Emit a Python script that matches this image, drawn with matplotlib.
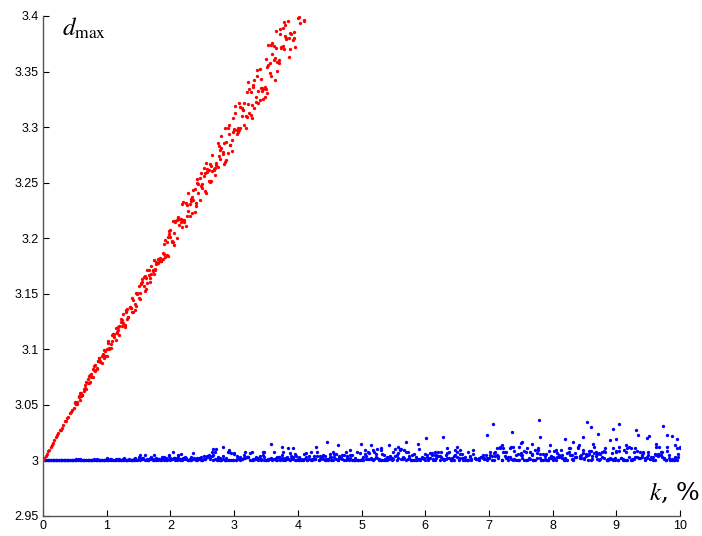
import matplotlib
matplotlib.use("Agg")
import matplotlib.pyplot as plt

# red series: d_max vs k, two overlapping runs
red_x = [
    0.00, 0.02, 0.04, 0.06, 0.08, 0.10, 0.12, 0.14, 0.16, 0.18,
    0.20, 0.22, 0.24, 0.26, 0.28, 0.30, 0.32, 0.34, 0.36, 0.38,
    0.40, 0.42, 0.44, 0.46, 0.48, 0.50, 0.52, 0.54, 0.56, 0.58,
    0.60, 0.62, 0.64, 0.66, 0.68, 0.70, 0.72, 0.74, 0.76, 0.78,
    0.80, 0.82, 0.84, 0.86, 0.88, 0.90, 0.92, 0.94, 0.96, 0.98,
    1.00, 1.02, 1.04, 1.06, 1.08, 1.10, 1.12, 1.14, 1.16, 1.18,
    1.20, 1.22, 1.24, 1.26, 1.28, 1.30, 1.32, 1.34, 1.36, 1.38,
    1.40, 1.42, 1.44, 1.46, 1.48, 1.50, 1.52, 1.54, 1.56, 1.58,
    1.60, 1.62, 1.64, 1.66, 1.68, 1.70, 1.72, 1.74, 1.76, 1.78,
    1.80, 1.82, 1.84, 1.86, 1.88, 1.90, 1.92, 1.94, 1.96, 1.98,
    2.00, 2.02, 2.04, 2.06, 2.08, 2.10, 2.12, 2.14, 2.16, 2.18,
    2.20, 2.22, 2.24, 2.26, 2.28, 2.30, 2.32, 2.34, 2.36, 2.38,
    2.40, 2.42, 2.44, 2.46, 2.48, 2.50, 2.52, 2.54, 2.56, 2.58,
    2.60, 2.62, 2.64, 2.66, 2.68, 2.70, 2.72, 2.74, 2.76, 2.78,
    2.80, 2.82, 2.84, 2.86, 2.88, 2.90, 2.92, 2.94, 2.96, 2.98,
    3.00, 3.02, 3.04, 3.06, 3.08, 3.10, 3.12, 3.14, 3.16, 3.18,
    3.20, 3.22, 3.24, 3.26, 3.28, 3.30, 3.32, 3.34, 3.36, 3.38,
    3.40, 3.42, 3.44, 3.46, 3.48, 3.50, 3.52, 3.54, 3.56, 3.58,
    3.60, 3.62, 3.64, 3.66, 3.68, 3.70, 3.72, 3.74, 3.76, 3.78,
    3.80, 3.82, 3.86, 3.88, 3.90, 3.94, 4.00, 4.02, 4.04, 4.10,
]
red_y = [
    3.0000, 3.0020, 3.0039, 3.0060, 3.0084, 3.0098, 3.0122, 3.0141, 3.0158, 3.0181,
    3.0207, 3.0230, 3.0246, 3.0272, 3.0276, 3.0293, 3.0315, 3.0352, 3.0358, 3.0386,
    3.0390, 3.0426, 3.0438, 3.0453, 3.0473, 3.0518, 3.0512, 3.0527, 3.0574, 3.0606,
    3.0603, 3.0592, 3.0624, 3.0683, 3.0704, 3.0697, 3.0695, 3.0773, 3.0779, 3.0753,
    3.0812, 3.0857, 3.0827, 3.0899, 3.0920, 3.0887, 3.0943, 3.0945, 3.0926, 3.0936,
    3.1005, 3.1056, 3.1014, 3.1012, 3.1129, 3.1128, 3.1114, 3.1191, 3.1154, 3.1174,
    3.1206, 3.1275, 3.1209, 3.1241, 3.1222, 3.1333, 3.1366, 3.1293, 3.1380, 3.1373,
    3.1337, 3.1441, 3.1404, 3.1511, 3.1502, 3.1463, 3.1452, 3.1594, 3.1630, 3.1651,
    3.1656, 3.1644, 3.1599, 3.1718, 3.1604, 3.1675, 3.1711, 3.1801, 3.1716, 3.1789,
    3.1773, 3.1811, 3.1794, 3.1795, 3.1814, 3.1948, 3.1834, 3.1969, 3.2009, 3.2069,
    3.2070, 3.1970, 3.1969, 3.2050, 3.2153, 3.2006, 3.2194, 3.2172, 3.2171, 3.2104,
    3.2167, 3.2165, 3.2318, 3.2204, 3.2246, 3.2197, 3.2355, 3.2375, 3.2348, 3.2440,
    3.2292, 3.2529, 3.2403, 3.2546, 3.2468, 3.2488, 3.2558, 3.2426, 3.2675, 3.2593,
    3.2613, 3.2502, 3.2653, 3.2753, 3.2613, 3.2633, 3.2679, 3.2644, 3.2829, 3.2711,
    3.2814, 3.2778, 3.2854, 3.2989, 3.2866, 3.2770, 3.3022, 3.2837, 3.2886, 3.3084,
    3.2985, 3.3126, 3.2934, 3.2953, 3.2972, 3.3178, 3.3104, 3.3156, 3.3018, 3.3101,
    3.3312, 3.3204, 3.3127, 3.3113, 3.3198, 3.3383, 3.3171, 3.3223, 3.3511, 3.3329,
    3.3519, 3.3437, 3.3354, 3.3339, 3.3358, 3.3343, 3.3538, 3.3558, 3.3578, 3.3741,
    3.3654, 3.3602, 3.3622, 3.3715, 3.3588, 3.3608, 3.3887, 3.3721, 3.3892, 3.3950,
    3.3819, 3.3801, 3.3802, 3.3705, 3.3842, 3.3802, 3.3980, 3.3995, 3.3939, 3.3957,
]
red2_x = [
    0.50, 0.52, 0.54, 0.56, 0.58, 0.60, 0.62, 0.64, 0.66, 0.68,
    0.70, 0.72, 0.74, 0.76, 0.78, 0.80, 0.82, 0.84, 0.86, 0.88,
    0.90, 0.92, 0.94, 0.96, 0.98, 1.00, 1.02, 1.04, 1.06, 1.08,
    1.10, 1.12, 1.14, 1.16, 1.18, 1.20, 1.22, 1.24, 1.26, 1.28,
    1.30, 1.32, 1.34, 1.36, 1.38, 1.40, 1.42, 1.44, 1.46, 1.48,
    1.50, 1.52, 1.54, 1.56, 1.58, 1.60, 1.62, 1.64, 1.66, 1.68,
    1.70, 1.72, 1.74, 1.76, 1.78, 1.80, 1.82, 1.84, 1.86, 1.88,
    1.90, 1.92, 1.94, 1.96, 1.98, 2.00, 2.02, 2.04, 2.06, 2.08,
    2.10, 2.12, 2.14, 2.16, 2.18, 2.20, 2.22, 2.24, 2.26, 2.28,
    2.30, 2.32, 2.34, 2.36, 2.38, 2.40, 2.42, 2.44, 2.46, 2.48,
    2.50, 2.52, 2.54, 2.56, 2.58, 2.60, 2.62, 2.64, 2.66, 2.68,
    2.70, 2.72, 2.74, 2.76, 2.78, 2.80, 2.82, 2.84, 2.86, 2.88,
    2.90, 2.92, 2.94, 2.96, 2.98, 3.00, 3.02, 3.04, 3.06, 3.08,
    3.10, 3.12, 3.14, 3.16, 3.18, 3.20, 3.22, 3.24, 3.26, 3.28,
    3.30, 3.32, 3.34, 3.36, 3.38, 3.40, 3.42, 3.44, 3.46, 3.48,
    3.50, 3.52, 3.54, 3.56, 3.58, 3.60, 3.62, 3.64, 3.66, 3.68,
    3.70, 3.72, 3.74, 3.76, 3.78, 3.80, 3.82, 3.84, 3.86, 3.88,
    3.92, 3.94, 3.96, 4.10,
]
red2_y = [
    3.0529, 3.0509, 3.0508, 3.0577, 3.0545, 3.0580, 3.0591, 3.0643, 3.0655, 3.0639,
    3.0731, 3.0761, 3.0705, 3.0754, 3.0824, 3.0846, 3.0803, 3.0833, 3.0898, 3.0919,
    3.0893, 3.0877, 3.0957, 3.0990, 3.0985, 3.0940, 3.1078, 3.1005, 3.1052, 3.1071,
    3.1134, 3.1140, 3.1086, 3.1151, 3.1201, 3.1128, 3.1242, 3.1262, 3.1315, 3.1203,
    3.1357, 3.1275, 3.1294, 3.1384, 3.1369, 3.1462, 3.1335, 3.1354, 3.1391, 3.1507,
    3.1566, 3.1508, 3.1588, 3.1608, 3.1567, 3.1525, 3.1544, 3.1712, 3.1668, 3.1645,
    3.1753, 3.1706, 3.1681, 3.1723, 3.1766, 3.1809, 3.1805, 3.1825, 3.1797, 3.1865,
    3.1860, 3.1980, 3.1849, 3.1842, 3.2041, 3.2010, 3.1978, 3.2156, 3.1936, 3.2145,
    3.2165, 3.2186, 3.2123, 3.2143, 3.2304, 3.2325, 3.2145, 3.2106, 3.2301, 3.2410,
    3.2312, 3.2332, 3.2230, 3.2433, 3.2237, 3.2318, 3.2495, 3.2484, 3.2344, 3.2589,
    3.2448, 3.2631, 3.2586, 3.2406, 3.2626, 3.2512, 3.2667, 3.2516, 3.2604, 3.2624,
    3.2573, 3.2663, 3.2861, 3.2738, 3.2794, 3.2923, 3.2761, 3.2670, 3.2688, 3.2707,
    3.2990, 3.2935, 3.2840, 3.2782, 3.2956, 3.2976, 3.3192, 3.2976, 3.2996, 3.3216,
    3.2995, 3.3176, 3.3156, 3.3217, 3.2989, 3.3091, 3.3404, 3.3340, 3.3319, 3.3083,
    3.3359, 3.3423, 3.3270, 3.3464, 3.3221, 3.3240, 3.3348, 3.3323, 3.3252, 3.3271,
    3.3609, 3.3309, 3.3742, 3.3485, 3.3458, 3.3758, 3.3732, 3.3422, 3.3869, 3.3507,
    3.3574, 3.3835, 3.3710, 3.3730, 3.3701, 3.3918, 3.3789, 3.3959, 3.3628, 3.3849,
    3.3787, 3.3857, 3.3722, 3.3961,
]

# blue series: d_max vs k, two overlapping runs on the same k grid
blue_x = [
    0, 0.025, 0.05, 0.075, 0.1, 0.125, 0.15, 0.175, 0.2, 0.225, 0.25, 0.275, 0.3, 0.325, 0.35, 0.375, 0.4, 0.425, 0.45, 0.475,
    0.5, 0.525, 0.55, 0.575, 0.6, 0.625, 0.65, 0.675, 0.7, 0.725, 0.75, 0.775, 0.8, 0.825, 0.85, 0.875, 0.9, 0.925, 0.95, 0.975,
    1.0, 1.025, 1.05, 1.075, 1.1, 1.125, 1.15, 1.175, 1.2, 1.225, 1.25, 1.275, 1.3, 1.325, 1.35, 1.375, 1.4, 1.425, 1.45, 1.475,
    1.5, 1.525, 1.55, 1.575, 1.6, 1.625, 1.65, 1.675, 1.7, 1.725, 1.75, 1.775, 1.8, 1.825, 1.85, 1.875, 1.9, 1.925, 1.95, 1.975,
    2.0, 2.025, 2.05, 2.075, 2.1, 2.125, 2.15, 2.175, 2.2, 2.225, 2.25, 2.275, 2.3, 2.325, 2.35, 2.375, 2.4, 2.425, 2.45, 2.475,
    2.5, 2.525, 2.55, 2.575, 2.6, 2.625, 2.65, 2.675, 2.7, 2.725, 2.75, 2.775, 2.8, 2.825, 2.85, 2.875, 2.9, 2.925, 2.95, 2.975,
    3.0, 3.025, 3.05, 3.075, 3.1, 3.125, 3.15, 3.175, 3.2, 3.225, 3.25, 3.275, 3.3, 3.325, 3.35, 3.375, 3.4, 3.425, 3.45, 3.475,
    3.5, 3.525, 3.55, 3.575, 3.6, 3.625, 3.65, 3.675, 3.7, 3.725, 3.75, 3.775, 3.8, 3.825, 3.85, 3.875, 3.9, 3.925, 3.95, 3.975,
    4.0, 4.025, 4.05, 4.075, 4.1, 4.125, 4.15, 4.175, 4.2, 4.225, 4.25, 4.275, 4.3, 4.325, 4.35, 4.375, 4.4, 4.425, 4.45, 4.475,
    4.5, 4.525, 4.55, 4.575, 4.6, 4.625, 4.65, 4.675, 4.7, 4.725, 4.75, 4.775, 4.8, 4.825, 4.85, 4.875, 4.9, 4.925, 4.95, 4.975,
    5.0, 5.025, 5.05, 5.075, 5.1, 5.125, 5.15, 5.175, 5.2, 5.225, 5.25, 5.275, 5.3, 5.325, 5.35, 5.375, 5.4, 5.425, 5.45, 5.475,
    5.5, 5.525, 5.55, 5.575, 5.6, 5.625, 5.65, 5.675, 5.7, 5.725, 5.75, 5.775, 5.8, 5.825, 5.85, 5.875, 5.9, 5.925, 5.95, 5.975,
    6.0, 6.025, 6.05, 6.075, 6.1, 6.125, 6.15, 6.175, 6.2, 6.225, 6.25, 6.275, 6.3, 6.325, 6.35, 6.375, 6.4, 6.425, 6.45, 6.475,
    6.5, 6.525, 6.55, 6.575, 6.6, 6.625, 6.65, 6.675, 6.7, 6.725, 6.75, 6.775, 6.8, 6.825, 6.85, 6.875, 6.9, 6.925, 6.95, 6.975,
    7.0, 7.025, 7.05, 7.075, 7.1, 7.125, 7.15, 7.175, 7.2, 7.225, 7.25, 7.275, 7.3, 7.325, 7.35, 7.375, 7.4, 7.425, 7.45, 7.475,
    7.5, 7.525, 7.55, 7.575, 7.6, 7.625, 7.65, 7.675, 7.7, 7.725, 7.75, 7.775, 7.8, 7.825, 7.85, 7.875, 7.9, 7.925, 7.95, 7.975,
    8.0, 8.025, 8.05, 8.075, 8.1, 8.125, 8.15, 8.175, 8.2, 8.225, 8.25, 8.275, 8.3, 8.325, 8.35, 8.375, 8.4, 8.425, 8.45, 8.475,
    8.5, 8.525, 8.55, 8.575, 8.6, 8.625, 8.65, 8.675, 8.7, 8.725, 8.75, 8.775, 8.8, 8.825, 8.85, 8.875, 8.9, 8.925, 8.95, 8.975,
    9.0, 9.025, 9.05, 9.075, 9.1, 9.125, 9.15, 9.175, 9.2, 9.225, 9.25, 9.275, 9.3, 9.325, 9.35, 9.375, 9.4, 9.425, 9.45, 9.475,
    9.5, 9.525, 9.55, 9.575, 9.6, 9.625, 9.65, 9.675, 9.7, 9.725, 9.75, 9.775, 9.8, 9.825, 9.85, 9.875, 9.9, 9.925, 9.95, 9.975,
    10.0,
]
blue_y = [
    3, 3, 3, 3, 3, 3, 3, 3, 3, 3,
    3, 3, 3, 3, 3, 3, 3, 3, 3, 3,
    3, 3.001, 3, 3.001, 3, 3, 3, 3.0005, 3, 3,
    3, 3, 3.001, 3, 3, 3, 3, 3.0005, 3, 3,
    3.002, 3, 3.001, 3, 3, 3, 3, 3, 3, 3,
    3, 3.002, 3, 3, 3, 3, 3, 3, 3.002, 3,
    3.0035, 3.0045, 3.0015, 3.001, 3.0045, 3.001, 3, 3.001, 3.0035, 3,
    3.0045, 3.002, 3.001, 3.001, 3.0005, 3.0035, 3.0035, 3, 3, 3.0045,
    3.0025, 3.0015, 3.002, 3.002, 3.0015, 3.0045, 3.001, 3.001, 3.001, 3.001,
    3.002, 3, 3.0005, 3.0035, 3.001, 3.0025, 3.0015, 3.002, 3.001, 3.0035,
    3.0005, 3.001, 3.001, 3.004, 3.005, 3.003, 3.004, 3.005, 3.001, 3,
    3.003, 3.002, 3.0005, 3.004, 3, 3.0005, 3, 3, 3.007, 3,
    3.007, 3, 3.0015, 3.002, 3.003, 3.0015, 3.005, 3.002, 3.003, 3.003,
    3.007, 3.0005, 3.001, 3.0015, 3.003, 3, 3.001, 3.0015, 3.005, 3.003,
    3, 3, 3.0015, 3.002, 3.0015, 3.001, 3.0005, 3.003, 3.003, 3.0015,
    3.005, 3.0005, 3, 3.001, 3.001, 3.007, 3.001, 3.003, 3, 3.004,
    3.0005, 3.003, 3, 3.0005, 3.0015, 3.007, 3, 3.0015, 3, 3.0005,
    3.004, 3.001, 3.004, 3.0005, 3.0015, 3.002, 3.005, 3.004, 3, 3,
    3.003, 3.003, 3, 3.003, 3.001, 3, 3.002, 3.002, 3.005, 3.005,
    3, 3.004, 3.0015, 3.005, 3.005, 3, 3.002, 3.0005, 3, 3.007,
    3.001, 3, 3.009, 3.004, 3.001, 3.0065, 3.001, 3.009, 3.001, 3.003,
    3.002, 3, 3.009, 3.0005, 3.005, 3.0005, 3.003, 3.0015, 3.004, 3.002,
    3.0015, 3.004, 3.005, 3.0065, 3.009, 3.001, 3.003, 3.009, 3, 3.0015,
    3.004, 3, 3, 3.0005, 3.0005, 3.0015, 3.0015, 3, 3.003, 3.0015,
    3, 3.003, 3.002, 3.0065, 3.0065, 3.001, 3, 3.002, 3.004, 3.004,
    3.003, 3.001, 3.0005, 3.0015, 3.0065, 3.002, 3.0005, 3.002, 3.004, 3.009,
    3.003, 3.0005, 3.009, 3.002, 3.0005, 3.003, 3.0005, 3.0005, 3.004, 3,
    3.009, 3.002, 3.0015, 3.0015, 3, 3.003, 3.005, 3.001, 3.005, 3,
    3.002, 3.005, 3.004, 3.0065, 3.004, 3.011, 3.004, 3.011, 3.0005, 3.011,
    3.004, 3.002, 3, 3.011, 3.001, 3.0005, 3.0085, 3.005, 3.0005, 3.0005,
    3.0065, 3.002, 3.0085, 3.0005, 3.011, 3.002, 3.001, 3.005, 3.0005, 3.0005,
    3.0065, 3.011, 3.002, 3.0005, 3, 3.004, 3.0005, 3.0005, 3.0085, 3.004,
    3.003, 3.0085, 3, 3.0065, 3.003, 3.003, 3.005, 3.001, 3.002, 3.0065,
    3.011, 3.011, 3.005, 3.001, 3.0065, 3.003, 3.011, 3.004, 3.005, 3.0065,
    3.002, 3.004, 3.0005, 3.0085, 3.0085, 3.004, 3.0065, 3.004, 3.001, 3.0065,
    3.001, 3.003, 3.0085, 3.011, 3.0005, 3.001, 3.001, 3.0065, 3.011, 3.002,
    3.0085, 3.0005, 3.0085, 3.002, 3, 3.0005, 3.0005, 3.011, 3.003, 3.011,
    3.0005, 3.001, 3.011, 3.0085, 3.002, 3.002, 3.005, 3.0065, 3.002, 3.002,
    3.005, 3.001, 3.003, 3.003, 3, 3.005, 3.004, 3.005, 3.005, 3.003,
    3.002, 3, 3.0085, 3.005, 3, 3.001, 3.0005, 3.002, 3.011, 3.003,
    3.011,
]
blue2_y = [
    3, 3, 3, 3, 3, 3, 3, 3, 3, 3,
    3, 3, 3, 3, 3, 3, 3, 3, 3, 3,
    3, 3, 3.001, 3.0005, 3, 3.0005, 3, 3, 3, 3,
    3.0005, 3.0005, 3, 3, 3.0015, 3.0005, 3.0005, 3, 3.0005, 3,
    3, 3.0005, 3, 3.0015, 3, 3.0005, 3.0015, 3.0015, 3.0015, 3,
    3.0015, 3, 3.0005, 3, 3.0015, 3.0005, 3.0005, 3.0015, 3.0005, 3.0005,
    3.0015, 3, 3.002, 3.002, 3, 3.0005, 3, 3.002, 3.0015, 3.0015,
    3.0005, 3, 3.0005, 3.001, 3.0005, 3.001, 3.0005, 3.002, 3.001, 3.004,
    3.0005, 3.001, 3.002, 3, 3.0005, 3.003, 3, 3, 3.002, 3.003,
    3.001, 3, 3.001, 3, 3.0015, 3.0015, 3.0005, 3, 3.002, 3.0005,
    3.0005, 3.004, 3.0015, 3.003, 3.003, 3.001, 3.0075, 3, 3.0075, 3.001,
    3.0005, 3, 3, 3.001, 3, 3.002, 3.0075, 3.0075, 3.0005, 3,
    3.0055, 3, 3.004, 3.0015, 3, 3.001, 3.002, 3.0075, 3.003, 3.003,
    3.0005, 3.0075, 3, 3.0015, 3.001, 3.002, 3.004, 3.0005, 3.0075, 3,
    3, 3.001, 3.001, 3.0015, 3.0005, 3.0075, 3.002, 3.0005, 3.003, 3,
    3.002, 3.0075, 3.002, 3.003, 3.001, 3, 3.004, 3.001, 3.0055, 3,
    3.001, 3.0005, 3.001, 3.0005, 3.0055, 3.003, 3.0005, 3.004, 3.0075, 3.0015,
    3.001, 3.0015, 3.0075, 3, 3.004, 3.003, 3.001, 3.0005, 3.001, 3.001,
    3.0055, 3.0005, 3.0075, 3.0055, 3.0055, 3, 3.004, 3.002, 3.001, 3,
    3.0075, 3.002, 3.0005, 3.002, 3, 3, 3, 3.0075, 3, 3,
    3.0005, 3.0035, 3.006, 3.0015, 3.0075, 3.0015, 3.0025, 3.0005, 3.0075, 3.006,
    3.010, 3.0015, 3, 3.006, 3, 3.001, 3.0005, 3.0035, 3.0025, 3,
    3.0075, 3.010, 3.0005, 3.0025, 3.010, 3.010, 3.0015, 3.0025, 3.0075, 3.0075,
    3.0025, 3.0005, 3.0045, 3.006, 3.0035, 3, 3.010, 3.001, 3.0025, 3.0025,
    3.006, 3.0045, 3.0005, 3.0025, 3.0045, 3, 3.0045, 3.0045, 3.0075, 3,
    3.0075, 3.001, 3.001, 3.0045, 3.0025, 3.0075, 3, 3, 3.0005, 3.0045,
    3.0075, 3.0025, 3.006, 3.006, 3.0025, 3.0005, 3.0005, 3.0075, 3.0035, 3.0015,
    3.006, 3.0025, 3.001, 3.0015, 3.0025, 3.0035, 3.0025, 3.0025, 3.001, 3.0025,
    3.002, 3.0075, 3.0005, 3, 3.0075, 3.0045, 3.002, 3.0125, 3, 3.0075,
    3.0075, 3.0075, 3.003, 3.003, 3.0125, 3.0125, 3.001, 3, 3.006, 3.0125,
    3.0045, 3.0045, 3.0005, 3.0075, 3, 3.001, 3.0075, 3.006, 3.0005, 3.0095,
    3.002, 3.0095, 3.006, 3, 3.006, 3.001, 3.006, 3.0005, 3.002, 3.002,
    3.0005, 3.002, 3.0095, 3.003, 3.0045, 3.0095, 3.002, 3, 3, 3,
    3.0075, 3.0045, 3.001, 3, 3.003, 3.003, 3.0125, 3.002, 3.002, 3.0095,
    3.001, 3.006, 3.0045, 3.006, 3, 3.001, 3.0125, 3.0075, 3.006, 3,
    3.006, 3.0075, 3.002, 3.0075, 3.0005, 3.0005, 3.002, 3.001, 3, 3,
    3.0075, 3, 3.0125, 3.002, 3.001, 3.0095, 3.0075, 3, 3.0125, 3.0005,
    3.001, 3.0075, 3.003, 3.003, 3.002, 3.0075, 3.003, 3.0075, 3, 3.003,
    3.0075, 3.001, 3.002, 3, 3.006, 3.0125, 3.006, 3.0125, 3.0075, 3.0075,
    3.001, 3, 3.0125, 3.002, 3.0005, 3, 3.0005, 3.003, 3.0005, 3.006,
    3.0125,
]

# isolated high blue points
blue_out_x = [2.04, 2.17, 2.35, 2.67, 2.72, 2.82, 2.92, 3.47, 3.58, 3.75, 3.85, 3.93,
              4.28, 4.46, 4.63, 4.82, 4.99, 5.15, 5.30, 5.43, 5.57, 5.70, 5.89,
              6.01, 6.15, 6.28, 6.34, 6.50, 6.97, 7.06, 7.36, 7.50, 7.78, 7.81,
              8.20, 8.32, 8.48, 8.54, 8.60, 8.71, 8.95, 9.04, 9.31, 9.34, 9.51,
              9.73, 9.80, 9.87, 9.95,
              7.52, 7.68, 7.96, 8.42, 8.63, 8.90, 9.00, 9.48, 9.92, 7.20, 9.15, 9.62]
blue_out_y = [3.008, 3.006, 3.007, 3.010, 3.010, 3.0125, 3.009, 3.008, 3.0145, 3.012, 3.011, 3.011,
              3.012, 3.017, 3.0135, 3.009, 3.0145, 3.0135, 3.011, 3.0135, 3.012, 3.017, 3.0145,
              3.020, 3.0075, 3.021, 3.011, 3.012, 3.0225, 3.033, 3.026, 3.016, 3.036, 3.021,
              3.019, 3.017, 3.021, 3.035, 3.030, 3.024, 3.028, 3.033, 3.027, 3.023, 3.022,
              3.031, 3.023, 3.022, 3.019,
              3.017, 3.015, 3.014, 3.0135, 3.015, 3.018, 3.019, 3.020, 3.0135, 3.014, 3.014, 3.015]

x_ticks = [0, 1, 2, 3, 4, 5, 6, 7, 8, 9, 10]
y_ticks = [2.95, 3.0, 3.05, 3.1, 3.15, 3.2, 3.25, 3.3, 3.35, 3.4]
y_tick_labels = ['2.95', '3', '3.05', '3.1', '3.15', '3.2', '3.25', '3.3', '3.35', '3.4']

plt.rcParams['font.family'] = 'Liberation Sans'
plt.rcParams['mathtext.fontset'] = 'stix'

fig = plt.figure(figsize=(7.02, 5.36), dpi=100)
ax = fig.add_axes([43 / 702, 20 / 536, 637 / 702, 500 / 536])

ms = 2.4
ax.plot(blue_x, blue_y, 'o', color='#0000ff', markersize=ms, markeredgewidth=0)
ax.plot(blue_x, blue2_y, 'o', color='#0000ff', markersize=ms, markeredgewidth=0)
ax.plot(blue_out_x, blue_out_y, 'o', color='#0000ff', markersize=ms, markeredgewidth=0)
ax.plot(red_x, red_y, 'o', color='#ff0000', markersize=ms, markeredgewidth=0)
ax.plot(red2_x, red2_y, 'o', color='#ff0000', markersize=ms, markeredgewidth=0)

ax.set_xlim(0, 10)
ax.set_ylim(2.95, 3.4)
ax.set_xticks(x_ticks)
ax.set_xticklabels([str(t) for t in x_ticks])
ax.set_yticks(y_ticks)
ax.set_yticklabels(y_tick_labels)
ax.tick_params(direction='in', length=4, width=0.8, labelsize=9, colors='#000000', pad=3)
for s in ['top', 'right']:
    ax.spines[s].set_visible(False)
for s in ['left', 'bottom']:
    ax.spines[s].set_color('#555555')
    ax.spines[s].set_linewidth(1.0)

fig.text(62 / 702, 1 - 36 / 536, r'$d_{\mathrm{max}}$', fontsize=18, ha='left', va='baseline')
fig.text(700 / 702, 1 - 500 / 536, r'$k$, %', fontsize=18, family='serif',
         ha='right', va='baseline')

fig.savefig('out.png', dpi=100)
